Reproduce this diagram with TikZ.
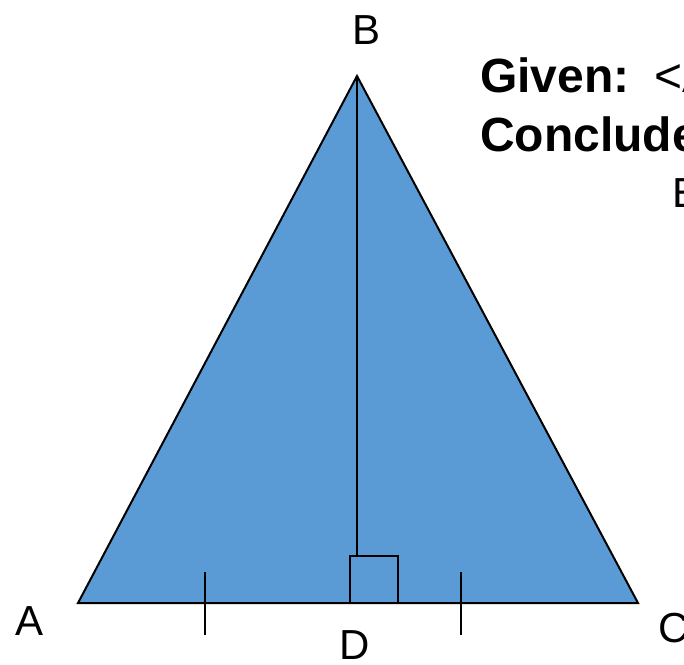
\documentclass[tikz,border=0pt]{standalone}
\usepackage{fontspec}
\setmainfont{Liberation Sans}
\definecolor{trifill}{HTML}{5B9BD5}
\begin{document}
\begin{tikzpicture}[x=1pt,y=-1pt,
  edge/.style={line width=2pt,line join=miter},
  lbl/.style={font=\fontsize{42}{48}\selectfont,inner sep=0pt},
  hdr/.style={font=\fontsize{48}{56}\selectfont,inner sep=0pt,anchor=base west},
  txt/.style={font=\fontsize{42}{48}\selectfont,inner sep=0pt,anchor=base west}]
\useasboundingbox (0,0) rectangle (684,664);
\clip (0,0) rectangle (684,664);
\coordinate (A) at (78,603);
\coordinate (B) at (357,76);
\coordinate (C) at (638,603);
\coordinate (D) at (357,603);
\coordinate (H) at (357,556);
\coordinate (Q1) at (350,556);
\coordinate (Q2) at (398,603);
\coordinate (T1a) at (205,572);
\coordinate (T1b) at (205,635);
\coordinate (T2a) at (461,572);
\coordinate (T2b) at (461,635);
\fill[trifill] (A) -- (B) -- (C) -- cycle;
\draw[edge] (A) -- (B) -- (C) -- cycle;
\draw[edge] (B) -- (H);
\draw[edge] (Q1) rectangle (Q2);
\draw[edge] (T1a) -- (T1b);
\draw[edge] (T2a) -- (T2b);
\node[lbl] (lA) at (30,621) {A};
\node[lbl] (lB) at (366,30) {B};
\node[lbl] (lC) at (674,628) {C};
\node[lbl] (lD) at (355,645) {D};
\node[hdr] (g) at (480,92) {\textbf{Given:}\hspace{25pt}<A};
\node[hdr] (c) at (480,151) {\textbf{Conclude}};
\node[txt] (e) at (672,207) {E};
\end{tikzpicture}
\end{document}
